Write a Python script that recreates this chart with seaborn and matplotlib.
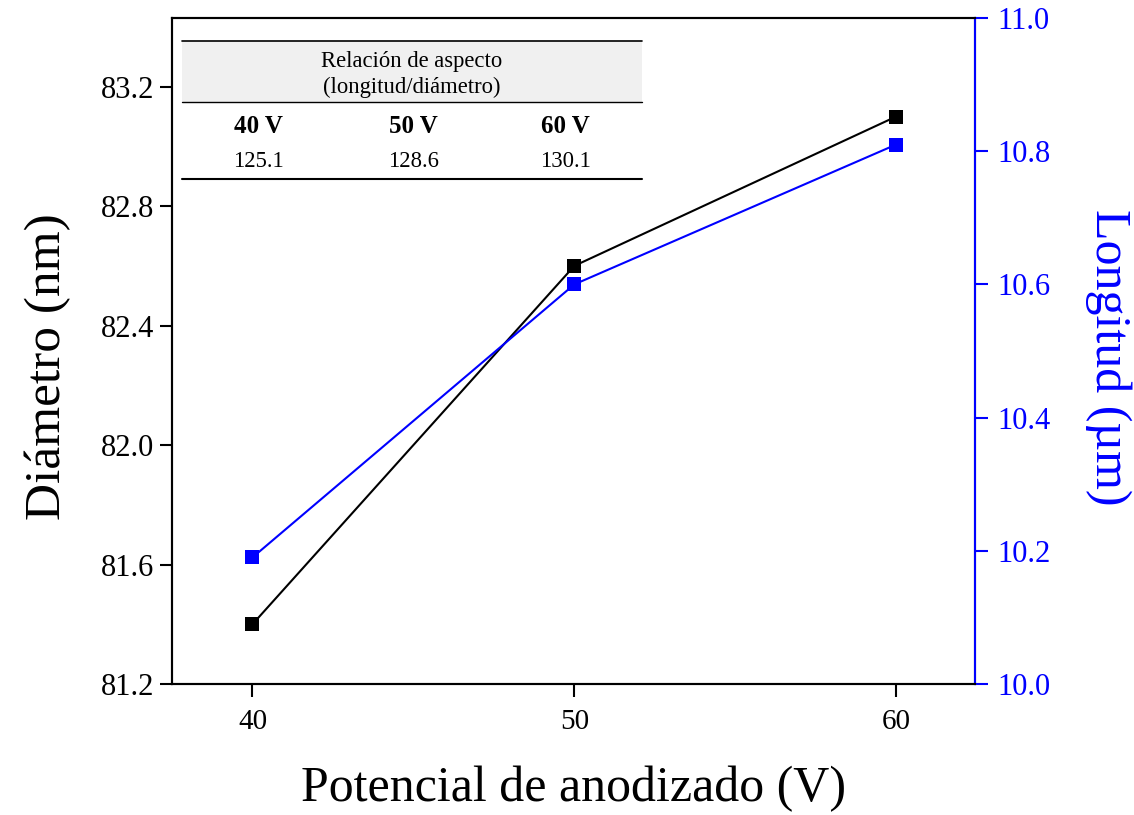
import matplotlib
matplotlib.use("Agg")
import matplotlib.pyplot as plt
import seaborn as sns
import pandas as pd
from matplotlib.lines import Line2D
from matplotlib.patches import Rectangle

voltage = [40, 50, 60]
diametro = [81.4, 82.6, 83.1]
longitud = [10.19, 10.60, 10.81]
table_headers = ["40 V", "50 V", "60 V"]
aspect_ratio = ["125.1", "128.6", "130.1"]

sns.set_theme(style="white")
plt.rcParams['font.family'] = ['Liberation Serif', 'DejaVu Serif']
plt.rcParams['mathtext.fontset'] = 'stix'
plt.rcParams['text.color'] = 'black'
plt.rcParams['axes.labelcolor'] = 'black'
plt.rcParams['xtick.color'] = 'black'
plt.rcParams['ytick.color'] = 'black'

df = pd.DataFrame({"V": voltage, "D": diametro, "L": longitud})

fig = plt.figure(figsize=(11.34, 8.15), dpi=100)
ax = fig.add_axes([172/1134, 1-684/815, (975-172)/1134, (684-18)/815])
ax2 = ax.twinx()

sns.lineplot(data=df, x="V", y="D", ax=ax, color="black", marker="s",
             markersize=10, markeredgewidth=0, linewidth=1.5)
sns.lineplot(data=df, x="V", y="L", ax=ax2, color="#0000ff", marker="s",
             markersize=10, markeredgewidth=0, linewidth=1.5)

ax.set_xlim(37.5, 62.45)
ax.set_ylim(81.2, 83.43)
ax2.set_ylim(10.0, 11.0)
ax.set_xticks([40, 50, 60])
ax.set_yticks([81.2, 81.6, 82.0, 82.4, 82.8, 83.2])
ax.set_yticklabels(["81.2", "81.6", "82.0", "82.4", "82.8", "83.2"])
ax2.set_yticks([10.0, 10.2, 10.4, 10.6, 10.8, 11.0])
ax2.set_yticklabels(["10.0", "10.2", "10.4", "10.6", "10.8", "11.0"])

for a in (ax, ax2):
    for s in a.spines.values():
        s.set_color("black")
        s.set_linewidth(1.5)
    a.grid(False)
ax2.spines['right'].set_color("#0000ff")

ax.tick_params(axis='x', direction='out', length=9, width=1.5,
               labelsize=21, colors='black', bottom=True, pad=9)
ax.tick_params(axis='y', direction='out', length=9, width=1.5,
               labelsize=22, colors='black', left=True, pad=4)
ax2.tick_params(axis='y', direction='out', length=9, width=1.5, labelsize=22,
                colors='#0000ff', right=True, pad=7)

ax.set_xlabel("Potencial de anodizado (V)", fontsize=36, labelpad=22)
ax.set_ylabel("Diámetro (nm)", fontsize=37, va="center")
ax2.set_ylabel("Longitud (µm)", fontsize=36, color="#0000ff", rotation=270,
               va="center")
ax.yaxis.set_label_coords(-0.155, 0.477)
ax2.yaxis.set_label_coords(1.166, 0.49)

# Inset table
x0, x1 = (182-172)/803, (642-172)/803
def yf(py):
    return (684-py)/666
ax.add_patch(Rectangle((x0, yf(102)), x1-x0, yf(41)-yf(102), transform=ax.transAxes,
                       facecolor="#f0f0f0", edgecolor="none", zorder=1))
for py, lw in [(41, 1.2), (102, 1.0), (179, 1.5)]:
    ax.add_line(Line2D([x0, x1], [yf(py), yf(py)], transform=ax.transAxes,
                       color="black", linewidth=lw, zorder=2))
xc = (x0 + x1) / 2
ax.text(xc, yf(61), "Relación de aspecto", transform=ax.transAxes, ha="center",
        va="center", fontsize=16.3)
ax.text(xc, yf(87), "(longitud/diámetro)", transform=ax.transAxes, ha="center",
        va="center", fontsize=16.3)
col_x = [(258-172)/803, (413-172)/803, (565-172)/803]
for cx, h, v in zip(col_x, table_headers, aspect_ratio):
    ax.text(cx, yf(126), h, transform=ax.transAxes, ha="center", va="center",
            fontsize=18, fontweight="bold")
    ax.text(cx, yf(161), v, transform=ax.transAxes, ha="center", va="center",
            fontsize=16.3)

fig.savefig("out.png", dpi=100)
